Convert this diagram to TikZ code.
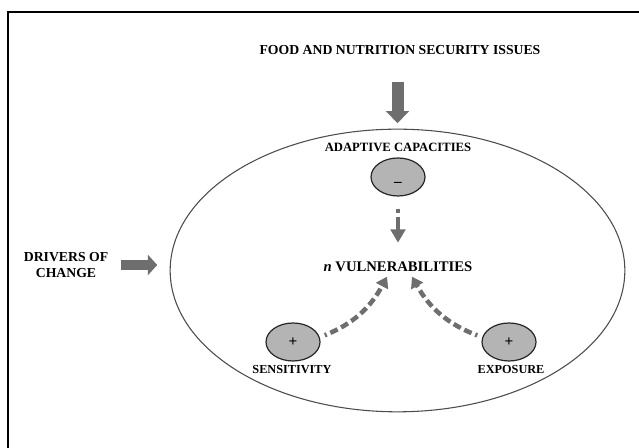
\documentclass[tikz,border=0pt]{standalone}
\usepackage{fontspec}
\setmainfont{Liberation Serif}
\usepackage{tikz}
\usetikzlibrary{positioning}
\usetikzlibrary{calc}
\usetikzlibrary{shapes.geometric}
\usetikzlibrary{arrows.meta}

\definecolor{arrowgrey}{HTML}{6E6E6E}
\definecolor{signgrey}{HTML}{B4B4B4}

\begin{document}
\begin{tikzpicture}[x=0.75pt,y=0.75pt,
		lbl/.style = {font=\bfseries\fontsize{9.2pt}{11pt}\selectfont},
		sign/.style = {draw=black!85, line width=0.9pt, fill=signgrey, ellipse, minimum width=40.5pt, minimum height=28.5pt, inner sep=0pt, font=\bfseries\fontsize{11.5pt}{13pt}\selectfont},
		bigarrow/.style = {draw=arrowgrey, line width=#1},
		dasharrow/.style = {draw=arrowgrey, line width=3.4pt, dash pattern=on 1.6pt off 3pt on 6pt off 3pt on 6pt off 3pt on 6pt off 3pt on 6pt off 3pt on 6pt off 3pt on 6pt off 3pt on 6pt off 3pt on 6pt off 3pt, -{Triangle[width=10pt,length=8pt]}}]
		\useasboundingbox (0,0) rectangle (639,448);
		\draw[line width=0.8pt] (8,0) -- (8,436) -- (639,436);
		% title and domain
		\node[font=\bfseries\fontsize{10.3pt}{12pt}\selectfont] at (400,398) (fns) {FOOD AND NUTRITION SECURITY ISSUES};
		\node[draw=black!70, line width=0.8pt, ellipse, minimum width=341pt, minimum height=212pt, inner sep=0pt, outer sep=0pt] at (397.5,177.5) (domain) {};
		\node[align=center, font=\bfseries\fontsize{10.3pt}{12pt}\selectfont] at (66,183) (drivers) {DRIVERS OF\\CHANGE};
		% inside
		\node[lbl, font=\bfseries\fontsize{9.5pt}{11pt}\selectfont] at (398,301) (adapt) {ADAPTIVE CAPACITIES};
		\node[sign] at (398,271) (minus) {\raisebox{-7pt}[0pt][0pt]{--}};
		\node[font=\bfseries\fontsize{11pt}{13pt}\selectfont] at (398,181) (vuln) {\textit{n} VULNERABILITIES};
		\node[sign] at (293,106) (sens) {+};
		\node[sign] at (509,106) (expo) {+};
		\node[lbl] at (292,78) (senslbl) {SENSITIVITY};
		\node[lbl] at (511,78) (expolbl) {EXPOSURE};
		\coordinate (vl) at ($(vuln.south)+(-11,0)$);
		\coordinate (vr) at ($(vuln.south)+(14,0)$);
		% arrows
		\draw[bigarrow=9pt, shorten <=17pt, shorten >=4.5pt, -{Triangle[width=17pt,length=9pt,fill=arrowgrey]}] (fns.south -| domain.north) to (domain.north);
		\draw[bigarrow=7.5pt, shorten <=6.4pt, shorten >=9.7pt, -{Triangle[width=15pt,length=7pt,fill=arrowgrey]}] (drivers.east) to (drivers.east -| domain.west);
		\draw[draw=arrowgrey, line width=3.4pt, dash pattern=on 3.5pt off 3pt on 40pt, shorten <=9pt, shorten >=11pt, -{Triangle[width=11pt,length=10pt]}] (minus) to (vuln);
		\draw[dasharrow, shorten <=4pt] (sens.10) to[bend right=20] (vl);
		\draw[dasharrow, shorten <=4pt] (expo.170) to[bend left=20] (vr);
	\end{tikzpicture}
\end{document}
